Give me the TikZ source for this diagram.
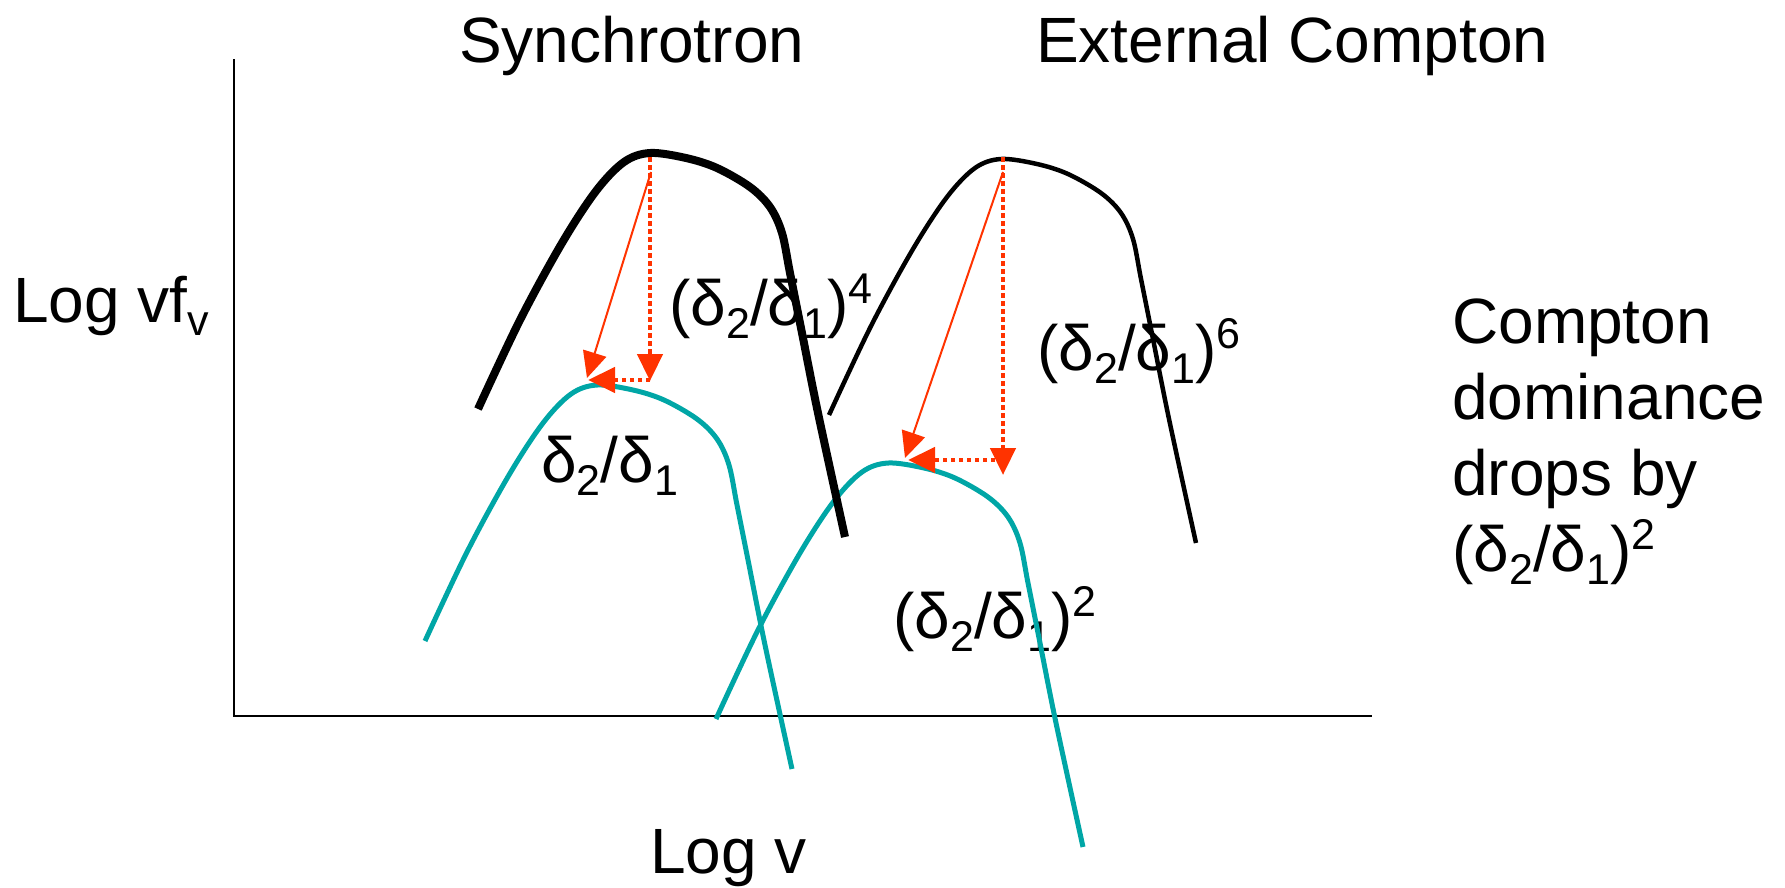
\documentclass[tikz,border=0pt]{standalone}
\usepackage{fontspec}
\setmainfont{Liberation Sans}
\usetikzlibrary{arrows.meta}
\definecolor{tealc}{RGB}{0,166,166}
\definecolor{redc}{RGB}{255,51,0}
\newcommand{\sbs}[1]{\raisebox{-13pt}{\fontsize{43}{43}\selectfont #1}}
\newcommand{\sps}[1]{\raisebox{22pt}{\fontsize{43}{43}\selectfont #1}}
\newcommand{\hump}[2]{\draw[#1, shift={#2}] plot[smooth,tension=0.55] coordinates{(-172,256) (-130,167) (-88,90) (-54,38) (-26,9) (0,0) (36,5) (67,15) (100,34) (120,54) (132,80) (140,120) (152,180) (168,260) (195,384)};}
\begin{document}
\begin{tikzpicture}[x=1pt,y=-1pt,
  lbl/.style={anchor=base west, inner sep=0pt, font=\fontsize{64}{77}\selectfont},
  axisline/.style={line width=2pt, draw=black},
  syncurve/.style={draw=black, line width=8pt},
  eccurve/.style={draw=black, line width=4.5pt},
  tealcurve/.style={draw=tealc, line width=5pt},
  redsolid/.style={draw=redc, line width=2pt, -{Triangle[width=24pt,length=26pt]}},
  reddot/.style={draw=redc, line width=4.5pt, dash pattern=on 4.5pt off 3.5pt, -{Triangle[width=25pt,length=27pt]}}
]
\useasboundingbox (0,0) rectangle (1785,887);
% axes
\coordinate (ytop) at (234,59);
\coordinate (org) at (234,716);
\coordinate (xend) at (1372,716);
\draw[axisline] (ytop) -- (org) -- (xend);
% labels
\node[lbl] (syn) at (459,62) {Synchrotron};
\node[lbl] (ext) at (1036,62) {External Compton};
\node[lbl] (ylab) at (13,322) {Log vf\sbs{v}};
\node[lbl] (xlab) at (650,873) {Log v};
\node[lbl] (r4) at (669,325) {(δ\sbs{2}/δ\sbs{1})\sps{4}};
\node[lbl] (r6) at (1037,370) {(δ\sbs{2}/δ\sbs{1})\sps{6}};
\node[lbl] (r1) at (541,482) {δ\sbs{2}/δ\sbs{1}};
\node[lbl] (r2) at (893,638) {(δ\sbs{2}/δ\sbs{1})\sps{2}};
\node[lbl] (c1) at (1452,343) {Compton};
\node[lbl] (c2) at (1452,419) {dominance};
\node[lbl] (c3) at (1452,495) {drops by};
\node[lbl] (c4) at (1452,571) {(δ\sbs{2}/δ\sbs{1})\sps{2}};
% curves
\hump{tealcurve}{(597,385)}
\hump{tealcurve}{(888,463)}
\hump{syncurve}{(650,153)}
\hump{eccurve}{(1001,159)}
% red arrows, synchrotron
\coordinate (sa) at (650,157);
\coordinate (sb) at (650,381);
\coordinate (sc) at (650,380);
\coordinate (sd) at (588,380);
\coordinate (se) at (651,172);
\coordinate (sf) at (587,378);
\draw[reddot] (sa) -- (sb);
\draw[reddot] (sc) -- (sd);
\draw[redsolid] (se) -- (sf);
% red arrows, external Compton
\coordinate (ea) at (1003,157);
\coordinate (eb) at (1003,475);
\coordinate (ec) at (1003,460);
\coordinate (ed) at (908,460);
\coordinate (ee) at (1003,172);
\coordinate (ef) at (905,458);
\draw[reddot] (ea) -- (eb);
\draw[reddot] (ec) -- (ed);
\draw[redsolid] (ee) -- (ef);
\end{tikzpicture}
\end{document}
